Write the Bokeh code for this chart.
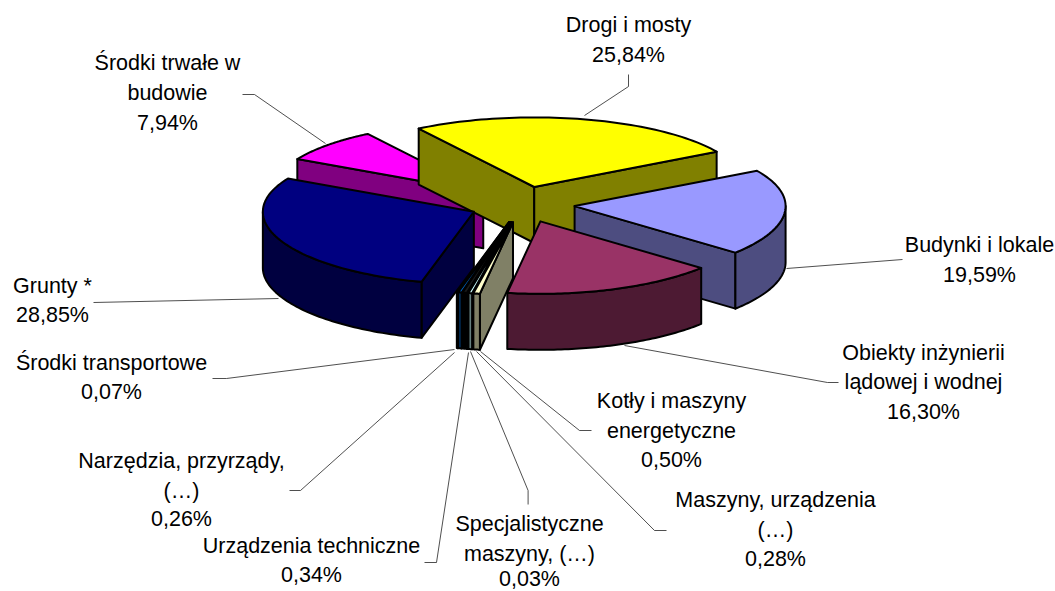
import math
from bokeh.plotting import figure
from bokeh.embed import file_html
from bokeh.resources import INLINE
from bokeh.core.properties import value

# ---- data (clockwise from the slice that starts at the upper left) ----
categories = ["Drogi i mosty", "Budynki i lokale", "Obiekty inżynierii lądowej i wodnej",
              "Kotły i maszyny energetyczne", "Maszyny, urządzenia (…)", "Specjalistyczne maszyny, (…)",
              "Urządzenia techniczne", "Narzędzia, przyrządy, (…)", "Środki transportowe",
              "Grunty *", "Środki trwałe w budowie"]
shares = [25.84, 19.59, 16.30, 0.50, 0.28, 0.03, 0.34, 0.26, 0.07, 28.85, 7.94]
colors = ["#FFFF00", "#9999FF", "#993366", "#FFFFCC", "#CCFFFF", "#660066",
          "#1A1A1A", "#0066CC", "#CCCCFF", "#000080", "#FF00FF"]
shades = ["#808000", "#4D4D80", "#4D1A33", "#808066", "#668080", "#330033",
          "#000000", "#003366", "#666680", "#000040", "#800080"]

# ---- labels: (lines, x centre, y centres) ----
labels = [
    (["Drogi i mosty", "25,84%"], 628, [24, 54]),
    (["Środki trwałe w", "budowie", "7,94%"], 167, [62, 92, 122]),
    (["Budynki i lokale", "19,59%"], 979, [244, 274]),
    (["Obiekty inżynierii", "lądowej i wodnej", "16,30%"], 923, [352, 381, 411]),
    (["Kotły i maszyny", "energetyczne", "0,50%"], 671, [400, 430, 459]),
    (["Maszyny, urządzenia", "(…)", "0,28%"], 775, [499, 529, 558]),
    (["Specjalistyczne", "maszyny, (…)", "0,03%"], 529, [523, 553, 578]),
    (["Urządzenia techniczne", "0,34%"], 311, [545, 574]),
    (["Narzędzia, przyrządy,", "(…)", "0,26%"], 181, [460, 490, 518]),
    (["Środki transportowe", "0,07%"], 111, [362, 391]),
    (["Grunty *", "28,85%"], 52, [285, 314]),
]
leaders = [
    ([584, 628, 628], [115, 86, 74]),
    ([325, 254, 242], [143, 94, 94]),
    ([786, 902], [268, 259]),
    ([624, 827, 838], [345, 382, 382]),
    ([480, 579, 591], [351, 430, 430]),
    ([476, 654, 666], [351, 530, 530]),
    ([470, 527.6, 527.6], [351, 490, 504]),
    ([468, 436, 424], [352, 562, 562]),
    ([454, 300, 289], [352, 490, 490]),
    ([454, 226, 212], [349, 378, 378]),
    ([278, 93], [298, 302]),
]

W, H = 1055, 591
CX, CY, RX, RY, DEPTH = 521.6, 204.0, 211.0, 71.0, 56.0
EX, EY = 52.7, 18.0
START = -33.2

p = figure(width=W, height=H, x_range=(0, W), y_range=(H, 0),
           toolbar_location=None, output_backend="svg", min_border=0,
           background_fill_color="white", border_fill_color="white", outline_line_color=None)
p.axis.visible = False
p.grid.visible = False


def rim(t):
    r = math.radians(t)
    c = math.cos(r)
    return RX * math.sin(r), -RY * c * (1 - 0.02 * c)


def arc(t1, t2, n=60):
    return [t1 + (t2 - t1) * i / n for i in range(n + 1)]


total = sum(shares)
slices = []
a = START
for s, fc, sc in zip(shares, colors, shades):
    d = s / total * 360
    t1, t2 = a, a + d
    mid = math.radians((t1 + t2) / 2)
    slices.append((t1, t2, CX + EX * math.sin(mid), CY - EY * math.cos(mid), fc, sc))
    a = t2

LW = 2.0


def poly(xs, ys, col):
    p.patch(xs, ys, fill_color=col, line_color="black", line_width=LW, line_join="round")


def draw(sl):
    t1, t2, ax, ay, fc, sc = sl
    for t, vis in ((t1, math.sin(math.radians(t1)) < 0), (t2, math.sin(math.radians(t2)) > 0)):
        if vis:
            dx, dy = rim(t)
            poly([ax, ax + dx, ax + dx, ax], [ay, ay + dy, ay + dy + DEPTH, ay + DEPTH], sc)
    lo, hi = max(t1, 90), min(t2, 270)
    if lo < hi:
        pts = [rim(t) for t in arc(lo, hi)]
        xs = [ax + q[0] for q in pts]
        ys = [ay + q[1] for q in pts]
        poly(xs + xs[::-1], ys + [y + DEPTH for y in ys[::-1]], sc)
    pts = [rim(t) for t in arc(t1, t2)]
    poly([ax] + [ax + q[0] for q in pts], [ay] + [ay + q[1] for q in pts], fc)


# painter's order: far slices first, the thin front slices last (right-most on top)
order = [10, 0, 1, 2, 9, 8, 7, 6, 5, 4, 3]
for lx, ly in leaders:
    p.line(lx, ly, line_color="#222222", line_width=0.8)
for i in order:
    draw(slices[i])

for lines, x, ys in labels:
    p.text([x] * len(lines), ys, text=lines, text_align="center", text_baseline="middle",
           text_font=value("Liberation Sans"), text_font_size="21.5px", text_color="black")

open("out.html", "w").write(file_html(p, INLINE))
